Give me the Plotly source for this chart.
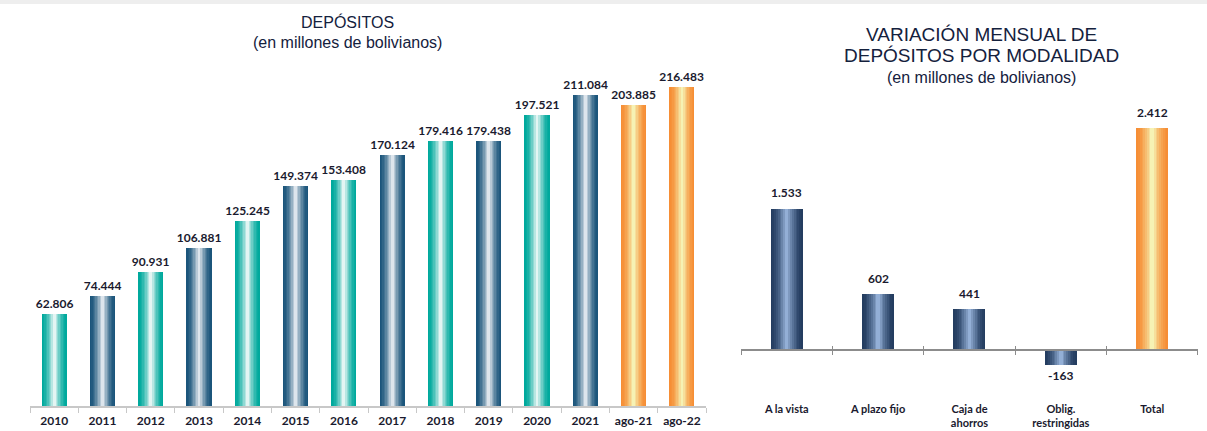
import numpy as np
import plotly.graph_objects as go

# Datos
anios = ["2010", "2011", "2012", "2013", "2014", "2015", "2016", "2017",
         "2018", "2019", "2020", "2021", "ago-21", "ago-22"]
depositos = [62806, 74444, 90931, 106881, 125245, 149374, 153408, 170124,
             179416, 179438, 197521, 211084, 203885, 216483]
depositos_txt = ["62.806", "74.444", "90.931", "106.881", "125.245", "149.374", "153.408",
                 "170.124", "179.416", "179.438", "197.521", "211.084", "203.885", "216.483"]

modalidades = ["A la vista", "A plazo fijo", "Caja de<br>ahorros", "Oblig.<br>restringidas", "Total"]
variacion = [1533, 602, 441, -163, 2412]
variacion_txt = ["1.533", "602", "441", "-163", "2.412"]

# Paletas (borde, centro)
TEAL = ("#00a99d", "#e3f5f3")
AZUL = ("#1b557b", "#dde5ec")
NARANJA = ("#f68e35", "#f6f2b4")
MARINO = ("#243d60", "#93afd6")


def hex2rgb(h):
    h = h.lstrip("#")
    return np.array([int(h[i:i + 2], 16) for i in (0, 2, 4)], dtype=float)


def mezcla(par, t):
    c = hex2rgb(par[0]) * (1 - t) + hex2rgb(par[1]) * t
    return "rgb(%d,%d,%d)" % tuple(c.round())


pal_izq = [TEAL if i % 2 == 0 else AZUL for i in range(12)] + [NARANJA, NARANJA]
pal_der = [MARINO] * 4 + [NARANJA]

FUENTE = "Lato, Carlito, Calibri, sans-serif"
TITULO = "Liberation Sans, Arial, sans-serif"
COLOR_T = "#14213d"
COLOR_NUM = "#1a1a2e"

fig = go.Figure()


def barras_degradado(x, y, txt, pal, ancho, xa, ya, pasos=9, gamma=1.6):
    for k in range(pasos):
        f = 1 - k / pasos
        t = (k / (pasos - 1)) ** gamma
        primera = k == 0
        fig.add_trace(
            go.Bar(
                x=x,
                y=y,
                width=ancho * f,
                marker=dict(color=[mezcla(p, t) for p in pal], line=dict(width=0)),
                text=txt if (primera and txt is not None) else None,
                textposition="outside",
                constraintext="none",
                textfont=dict(family=FUENTE, size=12, color=COLOR_NUM, weight="bold"),
                cliponaxis=False,
                xaxis=xa,
                yaxis=ya,
                showlegend=False,
                hoverinfo="skip" if not primera else None,
            )
        )


barras_degradado(anios, depositos, depositos_txt, pal_izq, 0.52, "x", "y")
barras_degradado(modalidades, variacion, None, pal_der, 0.35, "x2", "y2")

n_izq = len(anios)
n_der = len(modalidades)
pos_cero = (431 - 350) / 431

# Etiquetas de valor del gráfico derecho
etiquetas_der = [
    dict(x=m, y=v, text=t, xref="x2", yref="y2", showarrow=False,
         xanchor="center", yanchor="middle", yshift=16 if v >= 0 else -10,
         font=dict(family=FUENTE, size=12, color=COLOR_NUM, weight="bold"))
    for m, v, t in zip(modalidades, variacion, variacion_txt)
]

fig.update_layout(
    width=1207,
    height=431,
    margin=dict(l=0, r=0, t=0, b=0),
    paper_bgcolor="white",
    plot_bgcolor="white",
    barmode="overlay",
    bargap=0,
    xaxis=dict(
        domain=[0.0249, 0.585],
        type="category",
        range=[-0.5, n_izq - 0.5],
        showline=True,
        linecolor="#c8c8c8",
        linewidth=1.5,
        ticks="outside",
        tickson="boundaries",
        ticklen=5,
        tickcolor="#c8c8c8",
        ticklabelstandoff=3,
        tickfont=dict(family=FUENTE, size=12, color=COLOR_NUM, weight="bold"),
        showgrid=False,
    ),
    yaxis=dict(
        domain=[0.058, 0.915],
        range=[0, 250000],
        visible=False,
    ),
    xaxis2=dict(
        domain=[0.614, 0.9925],
        type="category",
        range=[-0.5, n_der - 0.5],
        anchor="y2",
        showline=False,
        ticks="",
        tickfont=dict(family=FUENTE, size=11, color=COLOR_NUM, weight="bold"),
        showgrid=False,
    ),
    yaxis2=dict(
        domain=[0.0705, 0.7856],
        range=[-550, 2800],
        anchor="x2",
        visible=False,
    ),
    xaxis3=dict(
        domain=[0.614, 0.9925],
        overlaying="x2",
        anchor="free",
        position=pos_cero,
        range=[-0.5, n_der - 0.5],
        tickvals=[i - 0.5 for i in range(n_der + 1)],
        showticklabels=False,
        showline=True,
        linecolor="#8c8c8c",
        linewidth=1.5,
        ticks="outside",
        ticklen=4,
        tickcolor="#8c8c8c",
        showgrid=False,
        zeroline=False,
    ),
    xaxis4=dict(
        domain=[0.614, 0.9925],
        overlaying="x2",
        anchor="free",
        position=pos_cero,
        range=[-0.5, n_der - 0.5],
        tickvals=[i - 0.5 for i in range(n_der + 1)],
        showticklabels=False,
        showline=False,
        ticks="inside",
        ticklen=4,
        tickcolor="#8c8c8c",
        showgrid=False,
        zeroline=False,
    ),
    shapes=[
        dict(type="rect", xref="paper", yref="paper", x0=0, x1=1, y0=1 - 4 / 431, y1=1,
             fillcolor="#eeeeee", line=dict(width=0), layer="below"),
    ],
    annotations=etiquetas_der + [
        dict(text="DEPÓSITOS", x=0.288, y=1 - 22 / 431, xref="paper", yref="paper",
             xanchor="center", yanchor="middle", showarrow=False,
             font=dict(family=TITULO, size=16, color=COLOR_T)),
        dict(text="(en millones de bolivianos)", x=0.288, y=1 - 43 / 431, xref="paper", yref="paper",
             xanchor="center", yanchor="middle", showarrow=False,
             font=dict(family=TITULO, size=16, color=COLOR_T)),
        dict(text="VARIACIÓN MENSUAL DE", x=0.8128, y=1 - 34 / 431,
             xref="paper", yref="paper", xanchor="center", yanchor="middle", showarrow=False,
             font=dict(family=TITULO, size=19, color=COLOR_T)),
        dict(text="DEPÓSITOS POR MODALIDAD", x=0.8128, y=1 - 55 / 431,
             xref="paper", yref="paper", xanchor="center", yanchor="middle", showarrow=False,
             font=dict(family=TITULO, size=19, color=COLOR_T)),
        dict(text="(en millones de bolivianos)", x=0.8128, y=1 - 78 / 431, xref="paper", yref="paper",
             xanchor="center", yanchor="middle", showarrow=False,
             font=dict(family=TITULO, size=16, color=COLOR_T)),
    ],
)

# Trazas invisibles para los ejes auxiliares de la línea cero
fig.add_trace(go.Scatter(x=[0], y=[0], xaxis="x3", yaxis="y2", mode="markers",
                         marker=dict(opacity=0), showlegend=False, hoverinfo="skip"))
fig.add_trace(go.Scatter(x=[0], y=[0], xaxis="x4", yaxis="y2", mode="markers",
                         marker=dict(opacity=0), showlegend=False, hoverinfo="skip"))

fig.write_html("out.html", config={"displayModeBar": False},
               post_script="document.body.style.margin='0';")
